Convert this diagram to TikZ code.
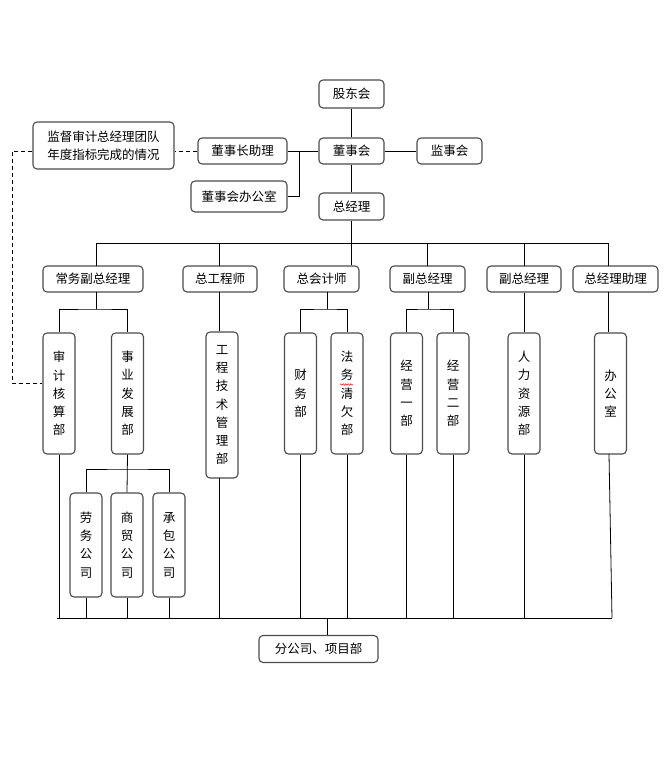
\documentclass[tikz,border=0pt]{standalone}
\usepackage{fontspec}
\newfontfamily\cjk{Noto Sans CJK SC}
\usetikzlibrary{decorations.pathmorphing}
\tikzset{
  box/.style={draw=black!70, line width=1.1pt, rounded corners=4pt, fill=white, inner sep=0pt,
    font=\fontsize{12.5pt}{18pt}\selectfont\cjk, align=center},
  vbox/.style={box, minimum width=32pt, font=\fontsize{12.5pt}{18.3pt}\selectfont\cjk},
  conn/.style={draw=black, line width=0.8pt},
  dashconn/.style={draw=black, line width=0.8pt, dash pattern=on 4pt off 3pt}
}
\begin{document}
\begin{tikzpicture}[x=1pt,y=-1pt]
\useasboundingbox[fill=white] (0,0) rectangle (668,764);
% top
\node[box, minimum width=65pt, minimum height=28pt] (gdh) at (351.5,94) {股东会};
\node[box, minimum width=65pt, minimum height=26pt] (dsh) at (351.5,151) {董事会};
\node[box, minimum width=65pt, minimum height=27pt] (zjl) at (351.5,206.5) {总经理};
\node[box, minimum width=65pt, minimum height=26pt] (jsh) at (449.5,151) {监事会};
\node[box, minimum width=89pt, minimum height=26pt] (zl) at (242.5,151) {董事长助理};
\node[box, minimum width=96pt, minimum height=31pt] (bgs0) at (239,196.5) {董事会办公室};
\node[box, minimum width=141pt, minimum height=47pt] (jd) at (103.5,145.5) {监督审计总经理团队\\年度指标完成的情况};
% level 2
\node[box, minimum width=100pt, minimum height=26pt] (a) at (93,279) {常务副总经理};
\node[box, minimum width=74pt, minimum height=26pt] (b) at (220,279) {总工程师};
\node[box, minimum width=75pt, minimum height=26pt] (c) at (321.5,279) {总会计师};
\node[box, minimum width=75pt, minimum height=26pt] (d) at (427.5,279) {副总经理};
\node[box, minimum width=74pt, minimum height=26pt] (e) at (524,279) {副总经理};
\node[box, minimum width=85pt, minimum height=26pt] (f) at (615.5,279) {总经理助理};
% level 3
\node[vbox, minimum height=121pt] (a1) at (59,393.5) {审\\计\\核\\算\\部};
\node[vbox, minimum height=121pt] (a2) at (127.5,393.5) {事\\业\\发\\展\\部};
\node[vbox, minimum height=146pt] (b1) at (222,405) {工\\程\\技\\术\\管\\理\\部};
\node[vbox, minimum height=121pt] (c1) at (300.5,393.5) {财\\务\\部};
\node[vbox, minimum height=121pt] (c2) at (347,393.5) {法\\务\\清\\欠\\部};
\node[vbox, minimum height=121pt] (d1) at (406.5,393.5) {经\\营\\一\\部};
\node[vbox, minimum height=121pt] (d2) at (453,393.5) {经\\营\\二\\部};
\node[vbox, minimum height=121pt] (e1) at (524,393.5) {人\\力\\资\\源\\部};
\node[vbox, minimum height=121pt] (f1) at (610.5,393.5) {办\\公\\室};
% level 4
\node[vbox, minimum height=104pt] (g1) at (86,545) {劳\\务\\公\\司};
\node[vbox, minimum height=104pt] (g2) at (127,545) {商\\贸\\公\\司};
\node[vbox, minimum height=104pt] (g3) at (169,545) {承\\包\\公\\司};
% bottom
\node[box, minimum width=119pt, minimum height=27pt] (fg) at (318.5,649) {分公司、项目部};
% spell-check squiggle
\draw[red, line width=0.5pt, decorate, decoration={snake, amplitude=0.7pt, segment length=2.5pt}] (340,384.5) -- (353,384.5);

% coordinates
\coordinate (bus2) at (0,243);
\coordinate (bus3) at (0,309);
\coordinate (bus4) at (0,469);
\coordinate (busb) at (0,618);
\coordinate (dj) at (299,151);
\coordinate (dl) at (12,383);

% top connectors
\draw[conn] (gdh) -- (dsh);
\draw[conn] (dsh) -- (zjl);
\draw[conn] (dsh) -- (jsh);
\draw[conn] (dsh.west) -- (dj);
\draw[conn] (zl.east) -- (dj) |- (bgs0.east);
% level 2 bus
\draw[conn] (zjl.south) -- (zjl.south |- bus2);
\draw[conn] (96,243) -- (608,243);
\draw[conn] (96,243) -- (96,266);
\draw[conn] (219,243) -- (219,266);
\draw[conn] (zjl.south |- bus2) -- (zjl.south |- c.north);
\draw[conn] (427,243) -- (427,266);
\draw[conn] (524,243) -- (524,266);
\draw[conn] (608,243) -- (608,266);
% level 3
\draw[conn] (96,292) -- (96,309);
\draw[conn] (a1.north) |- (96,309) -| (a2.north);
\draw[conn] (219,292) -- (b1.north -| 219,0);
\draw[conn] (327,292) -- (327,309);
\draw[conn] (c1.north) |- (327,309) -| (c2.north);
\draw[conn] (428,292) -- (428,309);
\draw[conn] (d1.north) |- (428,309) -| (d2.north);
\draw[conn] (e.south) -- (e1.north);
\draw[conn] (608,292) -- (608,332);
% level 4
\draw[conn] (a2.south) -- (g2.north);
\draw[conn] (g1.north) |- (a2.south |- bus4) -| (g3.north);
% bottom bus
\draw[conn] (a1.south) -- (a1.south |- busb);
\draw[conn] (g1.south) -- (g1.south |- busb);
\draw[conn] (g2.south) -- (g2.south |- busb);
\draw[conn] (g3.south) -- (g3.south |- busb);
\draw[conn] (219,478) -- (219,618);
\draw[conn] (c1.south) -- (c1.south |- busb);
\draw[conn] (c2.south) -- (c2.south |- busb);
\draw[conn] (d1.south) -- (d1.south |- busb);
\draw[conn] (d2.south) -- (d2.south |- busb);
\draw[conn] (e1.south) -- (e1.south |- busb);
\draw[conn] (609,454) -- (612,618);
\draw[conn] (57,618) -- (612,618);
\draw[conn] (327,618) -- (fg.north -| 327,0);
% dashed
\draw[dashconn] (zl.west) -- (zl.west -| jd.east);
\draw[dashconn] (jd.west |- zl.west) -| (dl) -- (a1.west |- dl);
\end{tikzpicture}
\end{document}
